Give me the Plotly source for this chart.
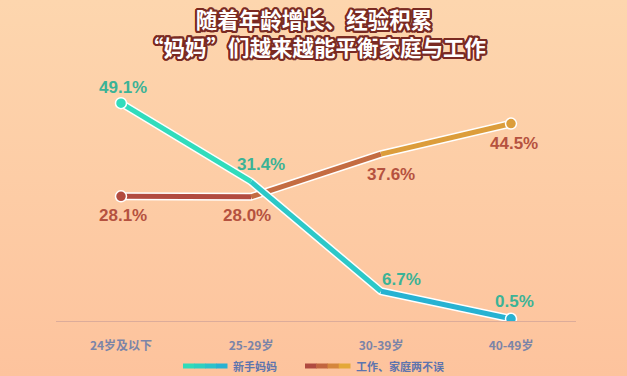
import base64
import plotly.graph_objects as go

# ---------------- data ----------------
categories = ["24岁及以下", "25-29岁", "30-39岁", "40-49岁"]
new_moms = [49.1, 31.4, 6.7, 0.5]          # 新手妈妈
balance = [28.1, 28.0, 37.6, 44.5]         # 工作、家庭两不误
series_names = ["新手妈妈", "工作、家庭两不误"]
title_lines = ["随着年龄增长、经验积累", "“妈妈”们越来越能平衡家庭与工作"]

# ---------------- style ----------------
W, H = 627, 376
ML, MR, MT, MB = 56, 51, 77, 55
teal_seg = ["#31dcbc", "#2cc8c8", "#27b2d2"]
brown_seg = ["#b24b40", "#c46c42", "#dc9d3b"]
teal_label = "#3bb396"
brown_label = "#b5523f"
tick_color = "#7b84a8"
legend_text = "#5d74ae"
outline = "#7a2a22"
num_font = "Liberation Sans, Arial, sans-serif"
cjk_font = "Noto Sans CJK SC, sans-serif"

x_idx = list(range(len(categories)))
fig = go.Figure()


def add_series(values, seg_colors):
    fig.add_trace(go.Scatter(x=x_idx, y=values, mode="lines",
                             line=dict(color="white", width=8),
                             hoverinfo="skip", showlegend=False))
    for i in range(len(values) - 1):
        fig.add_trace(go.Scatter(x=x_idx[i:i + 2], y=values[i:i + 2], mode="lines",
                                 line=dict(color=seg_colors[i], width=5),
                                 hoverinfo="skip", showlegend=False))
    ends = [0, len(values) - 1]
    fig.add_trace(go.Scatter(x=[x_idx[j] for j in ends], y=[values[j] for j in ends],
                             mode="markers",
                             marker=dict(size=11, color=[seg_colors[0], seg_colors[-1]],
                                         line=dict(color="white", width=1.5)),
                             hoverinfo="skip", showlegend=False))


add_series(balance, brown_seg)
add_series(new_moms, teal_seg)

annotations = []
teal_shift = [(2, 16), (10, 17), (20, 12), (3, 17)]
brown_shift = [(2, -19), (-4, -19), (10, -20), (3, -20)]
for i, v in enumerate(new_moms):
    annotations.append(dict(x=x_idx[i], y=v, xref="x", yref="y", text=f"{v:.1f}%",
                            showarrow=False, xshift=teal_shift[i][0], yshift=teal_shift[i][1],
                            font=dict(family=num_font, size=17, color=teal_label, weight="bold")))
for i, v in enumerate(balance):
    annotations.append(dict(x=x_idx[i], y=v, xref="x", yref="y", text=f"{v:.1f}%",
                            showarrow=False, xshift=brown_shift[i][0], yshift=brown_shift[i][1],
                            font=dict(family=num_font, size=17, color=brown_label, weight="bold")))

# title (white with dark outline)
shadow = ", ".join(f"{dx}px {dy}px 0 {outline}" for dx, dy in
                   [(2, 0), (-2, 0), (0, 2), (0, -2), (1.5, 1.5), (-1.5, -1.5), (1.5, -1.5),
                    (-1.5, 1.5), (2, 1), (-2, 1), (2, -1), (-2, -1), (1, 2), (-1, 2), (1, -2), (-1, -2)])
pw, ph = W - ML - MR, H - MT - MB


def px_to_paper(px, py):
    return (px - ML) / pw, (H - MB - py) / ph


xp, yp = px_to_paper(W / 2, 32.5)
annotations.append(dict(x=xp, y=yp, xref="paper", yref="paper", text="<br>".join(title_lines),
                        showarrow=False, xanchor="center", yanchor="middle", align="center",
                        font=dict(family=cjk_font, size=21.5, color="white", weight="bold",
                                  shadow=shadow)))

# manual legend
shapes = []
legend_items = [(183, 227, ["#30dbb9", "#2ed0c0", "#2cc2ca", "#29b2d2"], series_names[0]),
                (305, 350, ["#b04a40", "#c2653f", "#d5863c", "#e4a838"], series_names[1])]
ly = 366
for x0, x1, cols, name in legend_items:
    n = len(cols)
    for k, c in enumerate(cols):
        a0, b0 = px_to_paper(x0 + (x1 - x0) * k / n, ly - 2.5)
        a1, b1 = px_to_paper(x0 + (x1 - x0) * (k + 1) / n + 0.5, ly + 2.5)
        shapes.append(dict(type="rect", xref="paper", yref="paper", x0=a0, x1=a1, y0=b1, y1=b0,
                           fillcolor=c, line=dict(width=0), layer="above"))
    tx, ty = px_to_paper(x1 + 4, ly)
    annotations.append(dict(x=tx, y=ty, xref="paper", yref="paper", text=name, showarrow=False,
                            xanchor="left", yanchor="middle",
                            font=dict(family=cjk_font, size=11, color=legend_text, weight="bold")))

# background gradient via inline svg
svg = ('<svg xmlns="http://www.w3.org/2000/svg" width="10" height="100" preserveAspectRatio="none">'
       '<defs><linearGradient id="g" x1="0" y1="0" x2="0" y2="1">'
       '<stop offset="0" stop-color="#fdd6ae"/><stop offset="1" stop-color="#fdc39d"/>'
       '</linearGradient></defs><rect width="10" height="100" fill="url(#g)"/></svg>')
src = "data:image/svg+xml;base64," + base64.b64encode(svg.encode()).decode()
ix0, iy0 = px_to_paper(0, 0)
ix1, iy1 = px_to_paper(W, H)

fig.update_layout(
    width=W, height=H,
    margin=dict(l=ML, r=MR, t=MT, b=MB, pad=0),
    paper_bgcolor="#fdcda6", plot_bgcolor="rgba(0,0,0,0)",
    showlegend=False,
    images=[dict(source=src, xref="paper", yref="paper", x=ix0, y=iy0,
                 sizex=ix1 - ix0, sizey=iy0 - iy1, sizing="stretch", layer="below",
                 xanchor="left", yanchor="top")],
    annotations=annotations, shapes=shapes,
    xaxis=dict(range=[-0.5, 3.5], tickmode="array", tickvals=x_idx, ticktext=categories,
               showgrid=False, zeroline=False, showline=True, linecolor="#dcac9a", linewidth=1,
               ticks="", ticklabelstandoff=14,
               tickfont=dict(family=cjk_font, size=12, color=tick_color, weight="bold"),
               fixedrange=True),
    yaxis=dict(range=[0, 55], visible=False, fixedrange=True),
)

fig.write_html("out.html", config={"displayModeBar": False},
               post_script="document.body.style.margin='0';document.body.style.overflow='hidden';")
